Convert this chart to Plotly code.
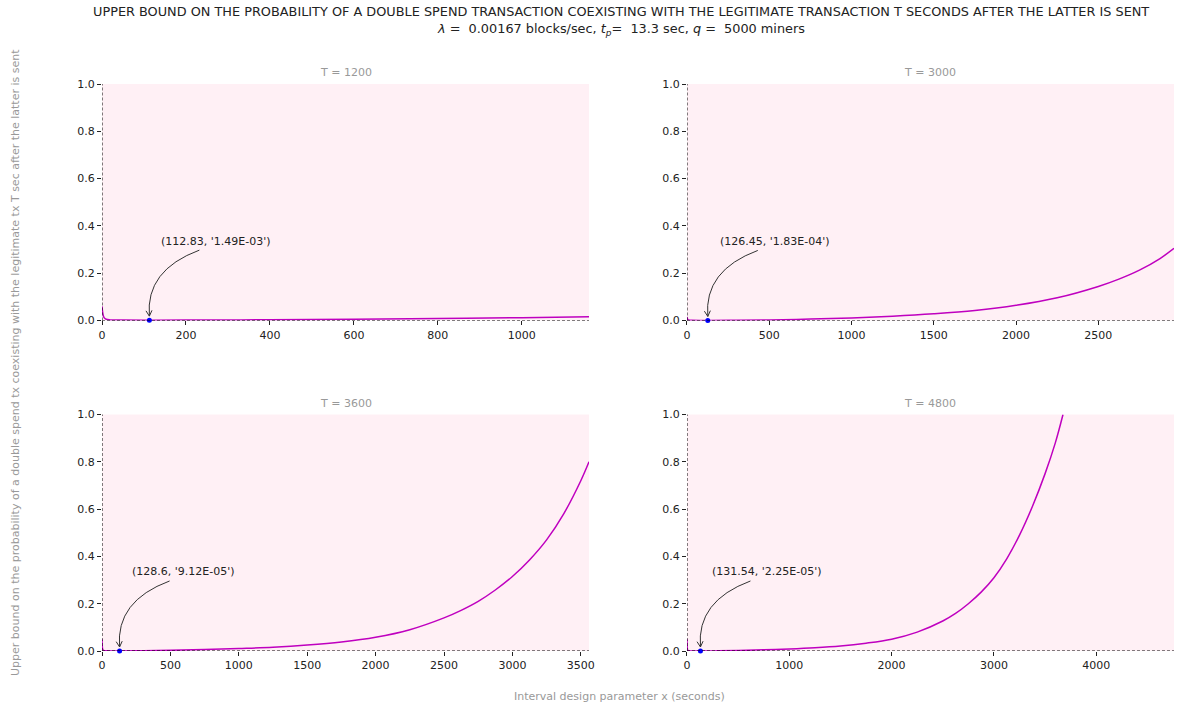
import plotly.graph_objects as go
from plotly.subplots import make_subplots

# ---- data ----
T_VALUES = [1200, 3000, 3600, 4800]
X_MAX = [1160, 2960, 3560, 4760]
X_DTICK = [200, 500, 500, 1000]

x_1200 = [0, 2, 5, 10, 20, 50, 112.83, 200, 400, 600, 800, 1000, 1160]
y_1200 = [0.06, 0.03, 0.012, 0.005, 0.0025, 0.0017, 0.00149, 0.0018, 0.003, 0.005, 0.008, 0.012, 0.016]

x_3000 = [0, 2, 5, 10, 30, 126.45, 300, 500, 750, 1000, 1250, 1500, 1750, 2000, 2250, 2500, 2625, 2750, 2875, 2960]
y_3000 = [0.015, 0.008, 0.004, 0.002, 0.0008, 0.000183, 0.0008, 0.0025, 0.006, 0.011, 0.018, 0.028, 0.042, 0.064, 0.096, 0.144, 0.175, 0.213, 0.262, 0.305]

x_3600 = [0, 2, 5, 10, 30, 128.6, 300, 500, 750, 1000, 1250, 1500, 1750, 2000, 2250, 2500, 2625, 2750, 2875, 3000, 3125, 3250, 3375, 3500, 3560]
y_3600 = [0.05, 0.02, 0.007, 0.003, 0.0006, 0.0000912, 0.0008, 0.003, 0.006, 0.0105, 0.016, 0.025, 0.038, 0.058, 0.09, 0.14, 0.172, 0.21, 0.258, 0.315, 0.385, 0.47, 0.58, 0.72, 0.80]

x_4800 = [0, 2, 5, 10, 30, 131.54, 300, 500, 750, 1000, 1250, 1500, 1750, 2000, 2250, 2500, 2625, 2750, 2875, 3000, 3125, 3250, 3375, 3500, 3600, 3675]
y_4800 = [0.05, 0.02, 0.006, 0.002, 0.0004, 0.0000225, 0.0006, 0.002, 0.005, 0.0085, 0.0135, 0.021, 0.033, 0.05, 0.08, 0.127, 0.159, 0.2, 0.249, 0.31, 0.39, 0.49, 0.61, 0.75, 0.88, 1.0]

MIN_X = [112.83, 126.45, 128.6, 131.54]
MIN_Y = [1.49e-03, 1.83e-04, 9.12e-05, 2.25e-05]
MIN_LABEL = ["(112.83, '1.49E-03')", "(126.45, '1.83E-04')", "(128.6, '9.12E-05')", "(131.54, '2.25E-05')"]

SERIES_X = [x_1200, x_3000, x_3600, x_4800]
SERIES_Y = [y_1200, y_3000, y_3600, y_4800]

TITLE_1 = "UPPER BOUND ON THE PROBABILITY OF A DOUBLE SPEND TRANSACTION COEXISTING WITH THE LEGITIMATE TRANSACTION T SECONDS AFTER THE LATTER IS SENT"
TITLE_2 = "<i>λ</i> =  0.00167 blocks/sec, <i>t</i><sub><i>p</i></sub>=  13.3 sec, <i>q</i> =  5000 miners"
Y_LABEL = "Upper bound on the probability of a double spend tx coexisting with the legitimate tx T sec after the latter is sent"
X_LABEL = "Interval design parameter x (seconds)"

FONT = "DejaVu Sans"
CURVE = "#bf00bf"
BG = "#fff0f5"
ARROW = "#333333"

fig = make_subplots(rows=2, cols=2, horizontal_spacing=0.0914, vertical_spacing=0.1658)

positions = [(1, 1), (1, 2), (2, 1), (2, 2)]
for i, (r, c) in enumerate(positions):
    fig.add_trace(go.Scatter(x=SERIES_X[i], y=SERIES_Y[i], mode="lines",
                             line=dict(color=CURVE, width=1.5, shape="spline", smoothing=1.0),
                             showlegend=False, hoverinfo="skip"), row=r, col=c)
    fig.add_trace(go.Scatter(x=[MIN_X[i]], y=[MIN_Y[i]], mode="markers",
                             marker=dict(color="blue", size=5), showlegend=False, cliponaxis=False,
                             hoverinfo="skip"),
                  row=r, col=c)
    axn = "" if i == 0 else str(i + 1)
    xref = "x" + axn
    yref = "y" + axn
    fig.update_xaxes(range=[0, X_MAX[i]], dtick=X_DTICK[i], tick0=0, showgrid=False, zeroline=False,
                     showline=False, ticks="outside", ticklen=4, tickcolor="#222", automargin=False,
                     tickfont=dict(family=FONT, size=11, color="#222"), row=r, col=c)
    fig.update_yaxes(range=[0, 1], dtick=0.2, tick0=0, tickformat=".1f", showgrid=False, zeroline=False,
                     showline=False, ticks="outside", ticklen=4, tickcolor="#222", automargin=False,
                     tickfont=dict(family=FONT, size=11, color="#222"), row=r, col=c)
    # dashed spines
    fig.add_shape(type="line", xref=xref + " domain", yref=yref, x0=0, x1=1, y0=0, y1=0,
                  line=dict(color="black", width=1, dash="3px,2px"), layer="above")
    fig.add_shape(type="line", xref=xref, yref=yref + " domain", x0=0, x1=0, y0=0, y1=1,
                  line=dict(color="black", width=1, dash="3px,2px"), layer="above")
    # subplot title
    fig.add_annotation(text="T = %d" % T_VALUES[i], xref=xref + " domain", yref=yref + " domain",
                       x=0.5, y=1, yanchor="bottom", yshift=3, showarrow=False,
                       font=dict(family=FONT, size=11, color="#999999"))
    # curved arrow with open head (pixel path anchored on the minimum point)
    fig.add_shape(type="path", xref=xref, yref=yref, xsizemode="pixel", ysizemode="pixel",
                  xanchor=MIN_X[i], yanchor=MIN_Y[i],
                  path="M 50 70 Q -4 50 0 4", line=dict(color=ARROW, width=1), layer="above")
    fig.add_shape(type="path", xref=xref, yref=yref, xsizemode="pixel", ysizemode="pixel",
                  xanchor=MIN_X[i], yanchor=MIN_Y[i],
                  path="M 2.6 9.8 L 0 4 L -3.4 9.3", line=dict(color=ARROW, width=1), layer="above")
    # label text
    fig.add_annotation(x=MIN_X[i], y=MIN_Y[i], xref=xref, yref=yref, text=MIN_LABEL[i], showarrow=False,
                       xanchor="left", yanchor="middle", xshift=10, yshift=79,
                       font=dict(family=FONT, size=11, color="#222222"))

fig.add_annotation(text=TITLE_1, xref="paper", yref="paper", x=0.4842, y=1.127, showarrow=False,
                   xanchor="center", yanchor="middle", font=dict(family=FONT, size=12.85, color="#222"))
fig.add_annotation(text=TITLE_2, xref="paper", yref="paper", x=0.4842, y=1.097, showarrow=False,
                   xanchor="center", yanchor="middle", font=dict(family=FONT, size=12.85, color="#222"))
fig.add_annotation(text=Y_LABEL, xref="paper", yref="paper", x=-0.0812, y=0.5097, showarrow=False,
                   textangle=-90, xanchor="center", yanchor="middle",
                   font=dict(family=FONT, size=11, color="#999999"))
fig.add_annotation(text=X_LABEL, xref="paper", yref="paper", x=0.4832, y=-0.0811, showarrow=False,
                   xanchor="center", yanchor="middle",
                   font=dict(family=FONT, size=11, color="#999999"))

fig.update_layout(width=1181, height=707, margin=dict(l=102, r=7, t=84, b=56, autoexpand=False),
                  plot_bgcolor=BG, paper_bgcolor="white", font=dict(family=FONT), hovermode=False)

fig.write_html("out.html", config={"displayModeBar": False},
               post_script="document.body.style.margin='0';document.body.style.padding='0';document.body.style.overflow='hidden';")
